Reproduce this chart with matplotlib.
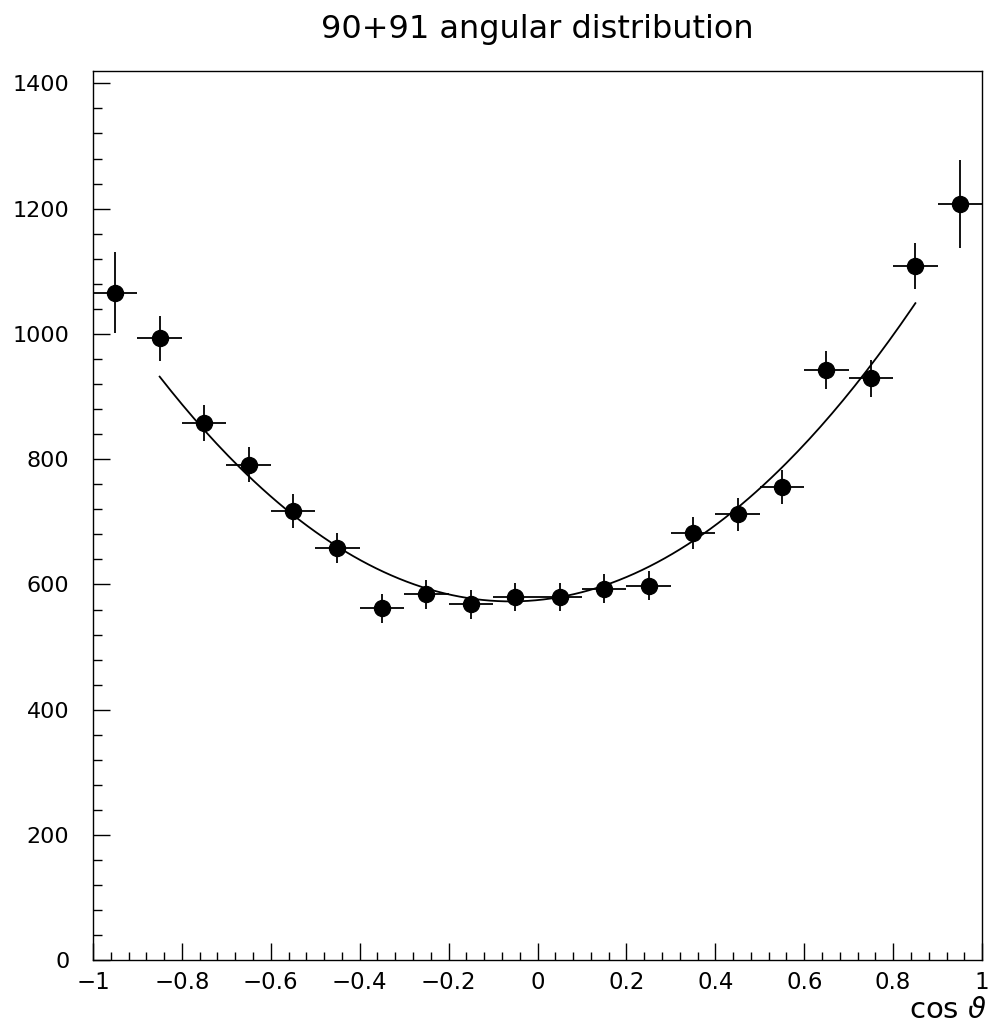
import numpy as np
import matplotlib
matplotlib.use("Agg")
import matplotlib.pyplot as plt
from matplotlib.ticker import MultipleLocator, FuncFormatter

# bin centres in cos(theta), bin width 0.1
cos_centers = [-0.95, -0.85, -0.75, -0.65, -0.55, -0.45, -0.35, -0.25, -0.15, -0.05,
               0.05, 0.15, 0.25, 0.35, 0.45, 0.55, 0.65, 0.75, 0.85, 0.95]
counts = [1066, 993, 858, 791, 717, 658, 562, 584, 568, 580,
          580, 593, 598, 682, 712, 755, 942, 929, 1108, 1207]
count_err = [65, 36, 29, 28, 27, 24, 23, 23, 23, 22,
             22, 23, 23, 26, 26, 27, 30, 30, 37, 70]
bin_half_width = 0.05

# fit  A*(1 + cos^2) + B*cos  over the inner bins
fit_A = 575.0
fit_B = 69.0
fit_range = (-0.85, 0.85)

fig = plt.figure(figsize=(9.89, 10.27), dpi=100)
ax = fig.add_axes([0.094, 0.065, 0.899, 0.866])

ax.errorbar(cos_centers, counts, yerr=count_err, xerr=bin_half_width,
            fmt='o', color='black', ms=11.5, elinewidth=1.3, capsize=0)

xf = np.linspace(fit_range[0], fit_range[1], 200)
ax.plot(xf, fit_A * (1 + xf ** 2) + fit_B * xf, color='black', lw=1.3)

ax.set_xlim(-1, 1)
ax.set_ylim(0, 1420)

ax.xaxis.set_major_locator(MultipleLocator(0.2))
ax.xaxis.set_minor_locator(MultipleLocator(0.04))
ax.yaxis.set_major_locator(MultipleLocator(200))
ax.yaxis.set_minor_locator(MultipleLocator(40))


def fmt(v, pos):
    v = round(v, 6)
    if v == 0:
        return "0"
    return "{:g}".format(v).replace("-", "\u2212")


ax.xaxis.set_major_formatter(FuncFormatter(fmt))

ax.tick_params(which='both', direction='in', top=False, right=False, width=1.0)
ax.tick_params(axis='y', which='major', length=12.5, pad=17, labelsize=16)
ax.tick_params(axis='y', which='minor', length=6.3)
ax.tick_params(axis='x', which='major', length=12, pad=8, labelsize=16.5)
ax.tick_params(axis='x', which='minor', length=6)

for s in ax.spines.values():
    s.set_linewidth(1.0)

ax.set_title("90+91 angular distribution", fontsize=23, pad=24)
fig.text(0.998, 0.0088, r"cos $\vartheta$", ha='right', va='baseline', fontsize=21)

fig.savefig("out.png", dpi=100)
